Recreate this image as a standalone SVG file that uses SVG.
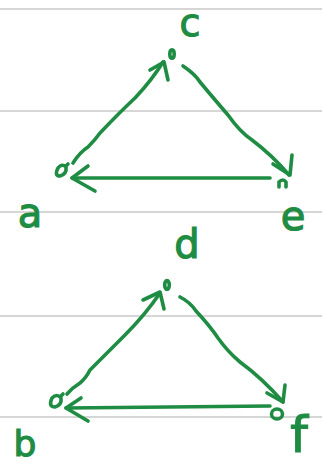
<svg xmlns="http://www.w3.org/2000/svg" width="322" height="467" viewBox="0 0 322 467">
<style>
.rule{stroke:#d6d6d6;stroke-width:2;fill:none}
.ink{stroke:#1f8c43;stroke-width:3.6;fill:none;stroke-linecap:round;stroke-linejoin:round}
.lbl{font-family:"DejaVu Sans",sans-serif;font-size:40px;fill:#1f8c43;stroke:#1f8c43;stroke-width:1.2;text-anchor:middle}
</style>
<rect width="322" height="467" fill="#ffffff"/>
<g id="rules">
<line class="rule" x1="0" y1="9" x2="322" y2="9"/>
<line class="rule" x1="0" y1="111" x2="322" y2="111"/>
<line class="rule" x1="0" y1="212" x2="322" y2="212"/>
<line class="rule" x1="0" y1="316" x2="322" y2="316"/>
<line class="rule" x1="0" y1="417" x2="322" y2="417"/>
</g>
<g id="connectors">
<path class="ink" d="M73,163 Q80,152 88,147 Q95,140 100,133 Q120,112 135,98 Q152,80 163,62"/>
<path class="ink" d="M150,70 L164,62 L168,80"/>
<path class="ink" d="M183,66 Q195,74 200,82 Q215,100 228,115 Q240,132 252,140 Q272,155 289,175"/>
<path class="ink" d="M292,155 L290,175 L273,164"/>
<path class="ink" d="M270,178 Q200,178 72,178"/>
<path class="ink" d="M88,166 L72,178 L95,191"/>
<path class="ink" d="M67,394 Q72,388 80,383 Q86,378 90,370 Q105,355 125,335 Q145,315 160,293"/>
<path class="ink" d="M143,300 L160,292 L164,309"/>
<path class="ink" d="M180,297 Q190,302 196,311 Q210,326 218,338 Q228,352 240,362 Q262,378 283,402"/>
<path class="ink" d="M285,385 L283,402 L267,393"/>
<path class="ink" d="M270,406 Q200,407 66,408"/>
<path class="ink" d="M81,398 L66,408 L88,421"/>
</g>
<g id="node-c"><ellipse class="ink" cx="172" cy="54" rx="2.2" ry="4.3" stroke-width="3"/><text class="lbl" x="190" y="36" style="font-size:38px">c</text></g>
<g id="node-a"><path class="ink" d="M58,168 Q54,176 60,176 Q67,174 66,167 Q62,163 58,168 M66,166 L68,164"/><text class="lbl" x="30" y="227">a</text></g>
<g id="node-e"><path class="ink" d="M279,187 L279,182 Q283,178 286,182 L286,187" stroke-width="2.8"/><text class="lbl" x="293" y="230">e</text></g>
<g id="node-d"><ellipse class="ink" cx="167" cy="285" rx="2.3" ry="4.5" stroke-width="3"/><text class="lbl" x="187" y="258">d</text></g>
<g id="node-b"><path class="ink" d="M52,398 Q48,407 55,407 Q62,405 61,398 Q57,393 52,398 M61,396 L63,394"/><text class="lbl" x="25" y="456" style="font-size:36px">b</text></g>
<g id="node-f"><ellipse class="ink" cx="277" cy="414" rx="5.5" ry="5"/><text class="lbl" x="299" y="452" style="font-size:50px">f</text></g>
</svg>
